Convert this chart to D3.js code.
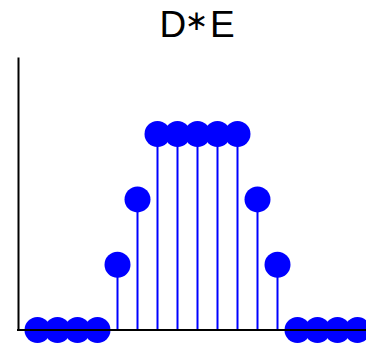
<!DOCTYPE html>
<html>
<head>
<meta charset="utf-8">
<script src="https://cdn.jsdelivr.net/npm/d3@7"></script>
<style>
  html, body { margin: 0; padding: 0; background: #fff; }
  svg { display: block; }
</style>
</head>
<body>
<svg id="chart" width="366" height="344"></svg>
<script>
// Discrete convolution result D*E, one sample per index
const indices = d3.range(17);
const values = [0, 0, 0, 0, 1, 2, 3, 3, 3, 3, 3, 2, 1, 0, 0, 0, 0];
const titleParts = ["D", "\u2217", "E"];

const width = 366, height = 344;
const margin = { left: 18, top: 57, bottom: 14 };

const svg = d3.select("#chart");

const x = d3.scaleLinear().domain([-1, 18]).range([margin.left - 0.5, margin.left - 0.5 + 19 * 20]);
const y = d3.scaleLinear().domain([0, 4.18]).range([height - margin.bottom, margin.top]);

const data = indices.map((i) => ({ i, v: values[i] }));

// stems
svg.append("g")
  .selectAll("line")
  .data(data)
  .join("line")
  .attr("x1", (d) => x(d.i))
  .attr("x2", (d) => x(d.i))
  .attr("y1", y(0))
  .attr("y2", (d) => y(d.v))
  .attr("stroke", "#0000ff")
  .attr("stroke-width", 2);

// filled markers
svg.append("g")
  .selectAll("circle")
  .data(data)
  .join("circle")
  .attr("cx", (d) => x(d.i))
  .attr("cy", (d) => y(d.v))
  .attr("r", 13)
  .attr("fill", "#0000ff");

// axes, without ticks or labels
const xAxis = d3.axisBottom(x).tickValues([]).tickSizeOuter(0);
const yAxis = d3.axisLeft(y).tickValues([]).tickSizeOuter(0);

svg.append("g")
  .attr("transform", `translate(0,${y(0)})`)
  .call(xAxis)
  .call((g) => g.select(".domain").attr("stroke", "#000").attr("stroke-width", 2)
    .attr("d", `M${margin.left - 1},0H${width}`));

svg.append("g")
  .attr("transform", `translate(${margin.left},0)`)
  .call(yAxis)
  .call((g) => g.select(".domain").attr("stroke", "#000").attr("stroke-width", 2));

// title: letters in Liberation Sans, the convolution operator in DejaVu Sans
const t = svg.append("text")
  .attr("y", 37.3)
  .attr("font-family", "Liberation Sans, Arial, sans-serif")
  .attr("font-size", 37)
  .attr("fill", "#000");
t.append("tspan").attr("x", 159.5).text(titleParts[0]);
t.append("tspan").attr("x", 196.5).attr("y", 30)
  .attr("text-anchor", "middle")
  .attr("font-family", "DejaVu Sans")
  .attr("font-size", 28)
  .text(titleParts[1]);
t.append("tspan").attr("x", 210).attr("y", 37.3)
  .attr("text-anchor", "start")
  .text(titleParts[2]);
</script>
</body>
</html>
